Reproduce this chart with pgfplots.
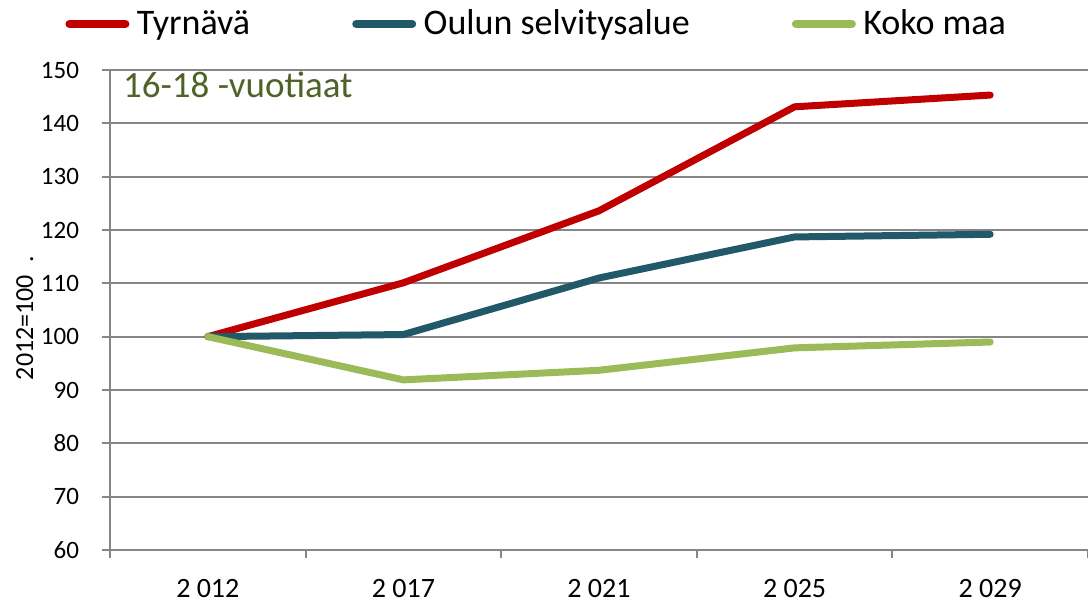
\documentclass[border=0pt]{standalone}
\usepackage{fontspec}
\setmainfont{Carlito}
\usepackage{pgfplots}
\pgfplotsset{compat=1.18}

\definecolor{tyrred}{HTML}{C00000}
\definecolor{oulteal}{HTML}{215968}
\definecolor{kokogreen}{HTML}{9BBB59}
\definecolor{axgray}{HTML}{868686}
\definecolor{titleolive}{HTML}{4F6228}

\begin{document}
\begin{tikzpicture}
\useasboundingbox (-55pt,-26pt) rectangle (489pt,275pt);
\begin{axis}[
    scale only axis,
    width=489pt, height=240pt,
    xmin=-0.5, xmax=4.5,
    ymin=60, ymax=150,
    axis x line=bottom, axis y line=left,
    axis line style={-, draw=axgray, line width=1.2pt},
    ytick={60,70,...,150},
    ymajorgrids,
    grid style={draw=axgray, line width=1pt},
    xtick={0,1,2,3,4},
    xticklabels={2 012, 2 017, 2 021, 2 025, 2 029},
    minor xtick={-0.5,0.5,1.5,2.5,3.5,4.5},
    tick align=outside,
    major tick length=4pt,
    minor tick length=4pt,
    x tick style={draw=none},
    minor x tick style={draw=axgray, line width=1pt},
    y tick style={draw=axgray, line width=1pt},
    /pgf/number format/assume math mode=true,
    yticklabel style={font=\fontsize{12.5}{14}\selectfont, xshift=-8pt},
    xticklabel style={font=\fontsize{14}{16}\selectfont, yshift=-7pt},
    ylabel={2012=100\hspace{6pt}.},
    ylabel style={at={(axis description cs:-0.087,0.483)}, anchor=center,
                  font=\fontsize{13}{15}\selectfont},
    legend columns=3,
    legend style={draw=none, fill=none, inner sep=0pt,
                  at={(axis description cs:-0.046,1.096)}, anchor=west,
                  font=\fontsize{18}{20}\selectfont,
                  /tikz/every even column/.append style={column sep=49pt}},
    legend image code/.code={\draw[#1, line width=4pt, line cap=round] (0pt,0pt) -- (28pt,0pt); \path (30pt,0pt);},
    every axis plot/.append style={line width=3.5pt, line join=round, line cap=round},
]
\addplot[tyrred] coordinates {(0,100) (1,110.1) (2,123.6) (3,143.1) (4,145.3)};
\addlegendentry{Tyrnävä}
\addplot[oulteal] coordinates {(0,100) (1,100.4) (2,111.0) (3,118.7) (4,119.2)};
\addlegendentry{Oulun selvitysalue}
\addplot[kokogreen] coordinates {(0,100) (1,91.9) (2,93.7) (3,97.9) (4,99.0)};
\addlegendentry{Koko maa}
\node[anchor=base west, inner sep=0pt, text=titleolive, font=\fontsize{18.5}{20}\selectfont]
    at (rel axis cs:0.013,0.9417) {16-18 -vuotiaat};
\end{axis}
\end{tikzpicture}
\end{document}
